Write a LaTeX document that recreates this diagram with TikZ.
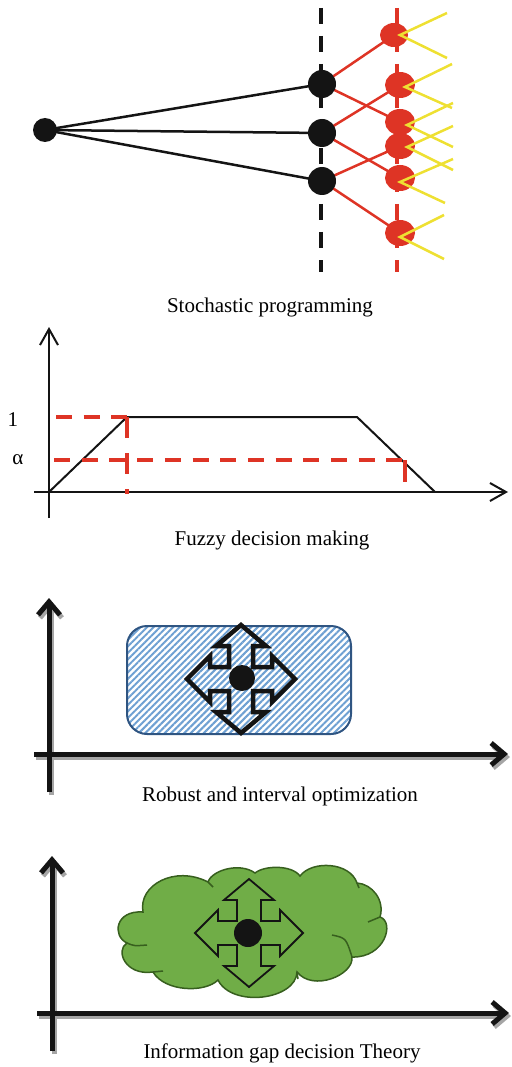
\documentclass[tikz,border=0pt]{standalone}
\usepackage{fontspec}
\setmainfont{Liberation Serif}
\usetikzlibrary{arrows.meta,shapes.geometric,patterns.meta,backgrounds}
\definecolor{redc}{RGB}{222,52,37}
\definecolor{yellowc}{RGB}{238,224,50}
\definecolor{blackc}{RGB}{20,20,20}
\definecolor{hatchblue}{RGB}{110,160,210}
\definecolor{borderblue}{RGB}{47,85,130}
\definecolor{greenfill}{RGB}{112,173,71}
\definecolor{greenborder}{RGB}{55,95,30}
\definecolor{shadowgray}{RGB}{165,165,165}
\begin{document}
\begin{tikzpicture}[x=1pt,y=-1pt,
  capt/.style={font=\fontsize{21}{24}\selectfont, inner sep=0pt},
  bdot/.style={circle, fill=blackc, inner sep=0pt, minimum size=28pt},
  rdot/.style={ellipse, fill=redc, inner sep=0pt, minimum width=30pt, minimum height=26pt},
  blackdash/.style={draw=blackc, line width=4pt, dash pattern=on 16pt off 12pt},
  reddash/.style={draw=redc, line width=4pt, dash pattern=on 16pt off 12pt},
  blk/.style={draw=blackc, line width=2.5pt},
  redl/.style={draw=redc, line width=2.5pt},
  yel/.style={draw=yellowc, line width=2.5pt},
  thinaxis/.style={draw=blackc, line width=2pt, -{Straight Barb[length=16pt,width=18pt]}},
  fuzzyred/.style={draw=redc, line width=4pt, dash pattern=on 16pt off 11.7pt},
  thickaxis/.style={draw=blackc, line width=5pt, -{Straight Barb[length=13pt,width=22pt]}},
  shadowaxis/.style={draw=shadowgray, line width=5pt, -{Straight Barb[length=13pt,width=22pt]}},
  innerarc/.style={draw=greenborder, line width=1.5pt},
  fourway/.pic={
    \path[pic actions] (0,-54) -- (25,-33) -- (12,-33) -- (12,-12) -- (31,-12) -- (31,-23) -- (54,0)
      -- (31,23) -- (31,12) -- (12,12) -- (12,33) -- (25,33) -- (0,54) -- (-25,33) -- (-12,33)
      -- (-12,12) -- (-31,12) -- (-31,23) -- (-54,0) -- (-31,-23) -- (-31,-12) -- (-12,-12)
      -- (-12,-33) -- (-25,-33) -- cycle;
  }
]
\useasboundingbox (0,0) rectangle (511,1067);

% ---------------- Stochastic programming ----------------
\coordinate (bdt) at (321,8);
\coordinate (bdb) at (321,272);
\coordinate (rdt) at (397,8);
\coordinate (rdb) at (397,272);
\draw[blackdash] (bdt) -- (bdb);
\draw[reddash] (rdt) -- (rdb);

\node[bdot, minimum size=24pt] (root) at (45,130) {};
\node[bdot] (b1) at (322,84) {};
\node[bdot] (b2) at (322,133) {};
\node[bdot] (b3) at (322,181) {};
\node[rdot, minimum width=28pt, minimum height=24pt] (r1) at (394,35) {};
\node[rdot] (r2) at (400,85) {};
\node[rdot] (r3) at (400,122) {};
\node[rdot] (r4) at (400,146) {};
\node[rdot] (r5) at (400,178) {};
\node[rdot] (r6) at (400,233) {};

\begin{pgfonlayer}{background}
\draw[blk] (root.center) -- (b1.center);
\draw[blk] (root.center) -- (b2.center);
\draw[blk] (root.center) -- (b3.center);
\draw[redl] (b1.center) -- (r1.center);
\draw[redl] (b1.center) -- (r3.center);
\draw[redl] (b2.center) -- (r2.center);
\draw[redl] (b2.center) -- (r5.center);
\draw[redl] (b3.center) -- (r4.center);
\draw[redl] (b3.center) -- (r6.center);
\end{pgfonlayer}

\coordinate (y1a) at (447,13);  \coordinate (y1b) at (447,58);
\coordinate (y2a) at (452,64);  \coordinate (y2b) at (452,108);
\coordinate (y3a) at (453,103); \coordinate (y3b) at (453,147);
\coordinate (y4a) at (453,126); \coordinate (y4b) at (453,170);
\coordinate (y5a) at (453,159); \coordinate (y5b) at (445,203);
\coordinate (y6a) at (444,215); \coordinate (y6b) at (444,259);
\draw[yel] (y1a) -- ([xshift=6pt]r1.center) -- (y1b);
\draw[yel] (y2a) -- ([xshift=5pt,yshift=-2pt]r2.center) -- (y2b);
\draw[yel] (y3a) -- ([xshift=7pt,yshift=-3pt]r3.center) -- (y3b);
\draw[yel] (y4a) -- ([xshift=7pt,yshift=-1pt]r4.center) -- (y4b);
\draw[yel] (y5a) -- ([yshift=-4pt]r5.center) -- (y5b);
\draw[yel] (y6a) -- ([yshift=-4pt]r6.center) -- (y6b);

\node[capt] (c1) at (270,307) {Stochastic programming};

% ---------------- Fuzzy decision making ----------------
\coordinate (fo) at (49,492);
\coordinate (fyb) at (49,518);
\coordinate (fyt) at (49,327);
\coordinate (fxl) at (34,492);
\coordinate (fxr) at (508,492);
\coordinate (fa) at (127,417);
\coordinate (fb) at (357,417);
\coordinate (fc) at (435,492);
\coordinate (fh1) at (56,417);
\coordinate (fv1) at (127,494);
\coordinate (fh2) at (54,460);
\coordinate (fh2e) at (405,460);
\coordinate (fv2) at (405,482);
\draw[thinaxis] (fyb) -- (fyt);
\draw[thinaxis] (fxl) -- (fxr);
\draw[draw=blackc, line width=2pt] (fo) -- (fa) -- (fb) -- (fc);
\draw[fuzzyred] (fh1) -- (fa);
\draw[draw=redc, line width=4pt, dash pattern=on 21pt off 15pt] (fa) -- (fv1);
\draw[fuzzyred] (fh2) -- (fh2e);
\draw[draw=redc, line width=4pt] (fh2e) -- (fv2);
\node[capt] (one) at (13,420) {1};
\node[capt] (alpha) at (18,460) {α};
\node[capt] (c2) at (272,540) {Fuzzy decision making};

% ---------------- Robust and interval optimization ----------------
\coordinate (ry0) at (49,792);
\coordinate (ry1) at (49,598);
\coordinate (rx0) at (34,754);
\coordinate (rx1) at (508,754);
\draw[shadowaxis] ([shift={(2,3)}]ry0) -- ([shift={(2,3)}]ry1);
\draw[shadowaxis] ([shift={(2,3)}]rx0) -- ([shift={(2,3)}]rx1);
\draw[thickaxis] (ry0) -- (ry1);
\draw[thickaxis] (rx0) -- (rx1);
\node[draw=borderblue, line width=2pt, rounded corners=20pt,
      pattern={Lines[angle=45,distance=4.6pt,line width=2pt]}, pattern color=hatchblue,
      minimum width=224pt, minimum height=108pt, inner sep=0pt] (rbox) at (239,680) {};
\pic[draw=blackc, line width=4.5pt, line join=miter] (rarrow) at (241,679) {fourway};
\node[circle, fill=blackc, minimum size=26pt, inner sep=0pt] (rdotc) at (242,678) {};
\node[capt] (c3) at (280,796) {Robust and interval optimization};

% ---------------- Information gap decision Theory ----------------
\coordinate (iy0) at (52,1051);
\coordinate (iy1) at (52,856);
\coordinate (ix0) at (37,1013);
\coordinate (ix1) at (509,1013);
\draw[shadowaxis] ([shift={(2,3)}]iy0) -- ([shift={(2,3)}]iy1);
\draw[shadowaxis] ([shift={(2,3)}]ix0) -- ([shift={(2,3)}]ix1);
\draw[thickaxis] (iy0) -- (iy1);
\draw[thickaxis] (ix0) -- (ix1);
% cloud outline (cusps)
\coordinate (cA) at (143,912);
\coordinate (cB) at (208,882);
\coordinate (cBB) at (255,873);
\coordinate (cC) at (300,876);
\coordinate (cD) at (357,883);
\coordinate (cE) at (380,917);
\coordinate (cF) at (352,957);
\coordinate (cG) at (297,972);
\coordinate (cH) at (218,980);
\coordinate (cI) at (153,972);
\coordinate (cJ) at (127,943);
\draw[draw=greenborder, line width=1.5pt, fill=greenfill]
  (cA) .. controls (138,885) and (175,865) .. (cB)
       .. controls (212,870) and (240,862) .. (cBB)
       .. controls (265,865) and (292,865) .. (cC)
       .. controls (312,860) and (350,862) .. (cD)
       .. controls (372,884) and (385,900) .. (cE)
       .. controls (395,922) and (385,958) .. (cF)
       .. controls (354,975) and (313,992) .. (cG)
       .. controls (296,1000) and (232,1008) .. (cH)
       .. controls (205,993) and (165,992) .. (cI)
       .. controls (125,976) and (115,950) .. (cJ)
       .. controls (112,936) and (115,910) .. (cA) -- cycle;
\draw[innerarc] (cJ) .. controls (134,946) .. (147,945);
\draw[innerarc] (cI) -- ++(10,-1);
\draw[innerarc] (cB) -- ++(5,5);
\draw[innerarc] (cD) -- ++(2,5);
\draw[innerarc] (cE) .. controls (374,920) .. (368,922);
\coordinate (cFi) at (332,935);
\draw[innerarc] (cFi) .. controls (346,938) .. (cF);
\draw[innerarc] (cG) -- ++(1,7);
\pic[draw=blackc, line width=1.8pt, line join=miter] (iarrow) at (249,933) {fourway};
\node[circle, fill=blackc, minimum size=28pt, inner sep=0pt] (idot) at (248,933) {};
\node[capt] (c4) at (282,1053) {Information gap decision Theory};
\end{tikzpicture}
\end{document}
